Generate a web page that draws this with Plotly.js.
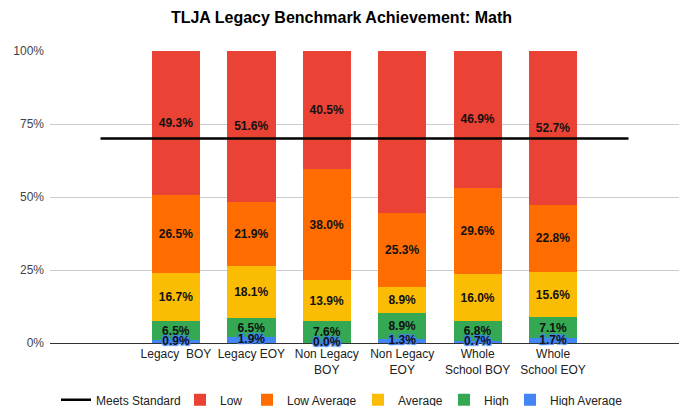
<!DOCTYPE html>
<html>
<head>
<meta charset="utf-8">
<script src="https://cdn.plot.ly/plotly-3.0.1.min.js"></script>
<style>html,body{margin:0;padding:0;background:#fff;}#chart{width:683px;height:406px;}</style>
</head>
<body>
<div id="chart"></div>
<script>
const categories = ["Legacy  BOY", "Legacy EOY", "Non Legacy<br>BOY", "Non Legacy<br>EOY", "Whole<br>School BOY", "Whole<br>School EOY"];
const highAverage = [0.9, 1.9, 0.0, 1.3, 0.7, 1.7];
const high = [6.5, 6.5, 7.6, 8.9, 6.8, 7.1];
const average = [16.7, 18.1, 13.9, 8.9, 16.0, 15.6];
const lowAverage = [26.5, 21.9, 38.0, 25.3, 29.6, 22.8];
const low = [49.3, 51.6, 40.5, 55.7, 46.9, 52.7];
const meetsStandard = 70;
const yTicks = [0, 25, 50, 75, 100];

const xs = categories.map((_, i) => i);
const fmt = v => v.toFixed(1) + "%";
const labelFont = {family: "Liberation Sans, Arial, sans-serif", size: 12, color: "#111", weight: "bold"};

function barTrace(name, vals, color, legendId) {
  return {
    type: "bar", name: name, x: xs, y: vals,
    marker: {color: color, line: {width: 0}},
    width: 0.64,
    text: vals.map(fmt), textposition: "inside", insidetextanchor: "middle",
    textangle: 0, constraintext: "none",
    textfont: labelFont,
    hoverinfo: "skip", legend: legendId, cliponaxis: false
  };
}

const hiAvgTrace = barTrace("High Average", highAverage, "#4285F4", "legend6");
hiAvgTrace.textposition = "none";
hiAvgTrace.text = null;

const traces = [
  {
    type: "scatter", mode: "lines", name: "Meets Standard",
    x: [-1, categories.length], y: [meetsStandard, meetsStandard],
    line: {color: "#000", width: 2.5}, legend: "legend", hoverinfo: "skip"
  },
  hiAvgTrace,
  barTrace("High", high, "#34A853", "legend5"),
  barTrace("Average", average, "#FBBC04", "legend4"),
  barTrace("Low Average", lowAverage, "#FF6D01", "legend3"),
  barTrace("Low", low, "#EA4335", "legend2"),
  {
    type: "scatter", mode: "text", x: xs, y: highAverage.map(v => v / 2),
    text: highAverage.map(fmt), textposition: "middle center",
    textfont: Object.assign({}, labelFont, {shadow: "1px 1px 1px #4285F4, -1px -1px 1px #4285F4, 1px -1px 1px #4285F4, -1px 1px 1px #4285F4, 0 0 2px #4285F4"}),
    showlegend: false, hoverinfo: "skip", cliponaxis: false
  }
];

// legend text start positions (px)
const legendTextX = [96, 220, 287, 398, 484, 550];
function legendAt(px) {
  return {
    orientation: "h", x: (px - 40 - 50) / 629, xanchor: "left", y: -0.145, yanchor: "top",
    font: {size: 12, color: "#222"}, itemwidth: 30, bgcolor: "rgba(0,0,0,0)"
  };
}

const layout = {
  width: 683, height: 406,
  margin: {l: 50, r: 4, t: 51, b: 63, autoexpand: false},
  paper_bgcolor: "#fff", plot_bgcolor: "#fff",
  barmode: "stack",
  bargap: 0.36,
  font: {family: "Liberation Sans, Arial, sans-serif", size: 12, color: "#222"},
  title: {
    text: "TLJA Legacy Benchmark Achievement: Math",
    font: {family: "Liberation Sans, Arial, sans-serif", size: 16, color: "#000", weight: "bold"},
    x: 0.5, xanchor: "center", xref: "container", y: 0.956, yanchor: "middle", yref: "container"
  },
  xaxis: {
    range: [-1.67, 6.67], tickvals: xs, ticktext: categories,
    showgrid: false, zeroline: false, showline: false, ticks: "", automargin: false,
    ticklabelstandoff: 2,
    tickfont: {size: 12, color: "#222"}, fixedrange: true
  },
  yaxis: {
    range: [0, 100], tickvals: yTicks, ticktext: yTicks.map(v => v + "%"),
    showgrid: true, gridcolor: "#cccccc", gridwidth: 1, automargin: false,
    zeroline: true, zerolinecolor: "#333", zerolinewidth: 1,
    ticklabelstandoff: 5,
    ticks: "", tickfont: {size: 12, color: "#444"}, fixedrange: true
  },
  legend: legendAt(legendTextX[0]),
  legend2: legendAt(legendTextX[1]),
  legend3: legendAt(legendTextX[2]),
  legend4: legendAt(legendTextX[3]),
  legend5: legendAt(legendTextX[4]),
  legend6: legendAt(legendTextX[5]),
  showlegend: true
};

Plotly.newPlot("chart", traces, layout, {displayModeBar: false, staticPlot: true});
</script>
</body>
</html>
